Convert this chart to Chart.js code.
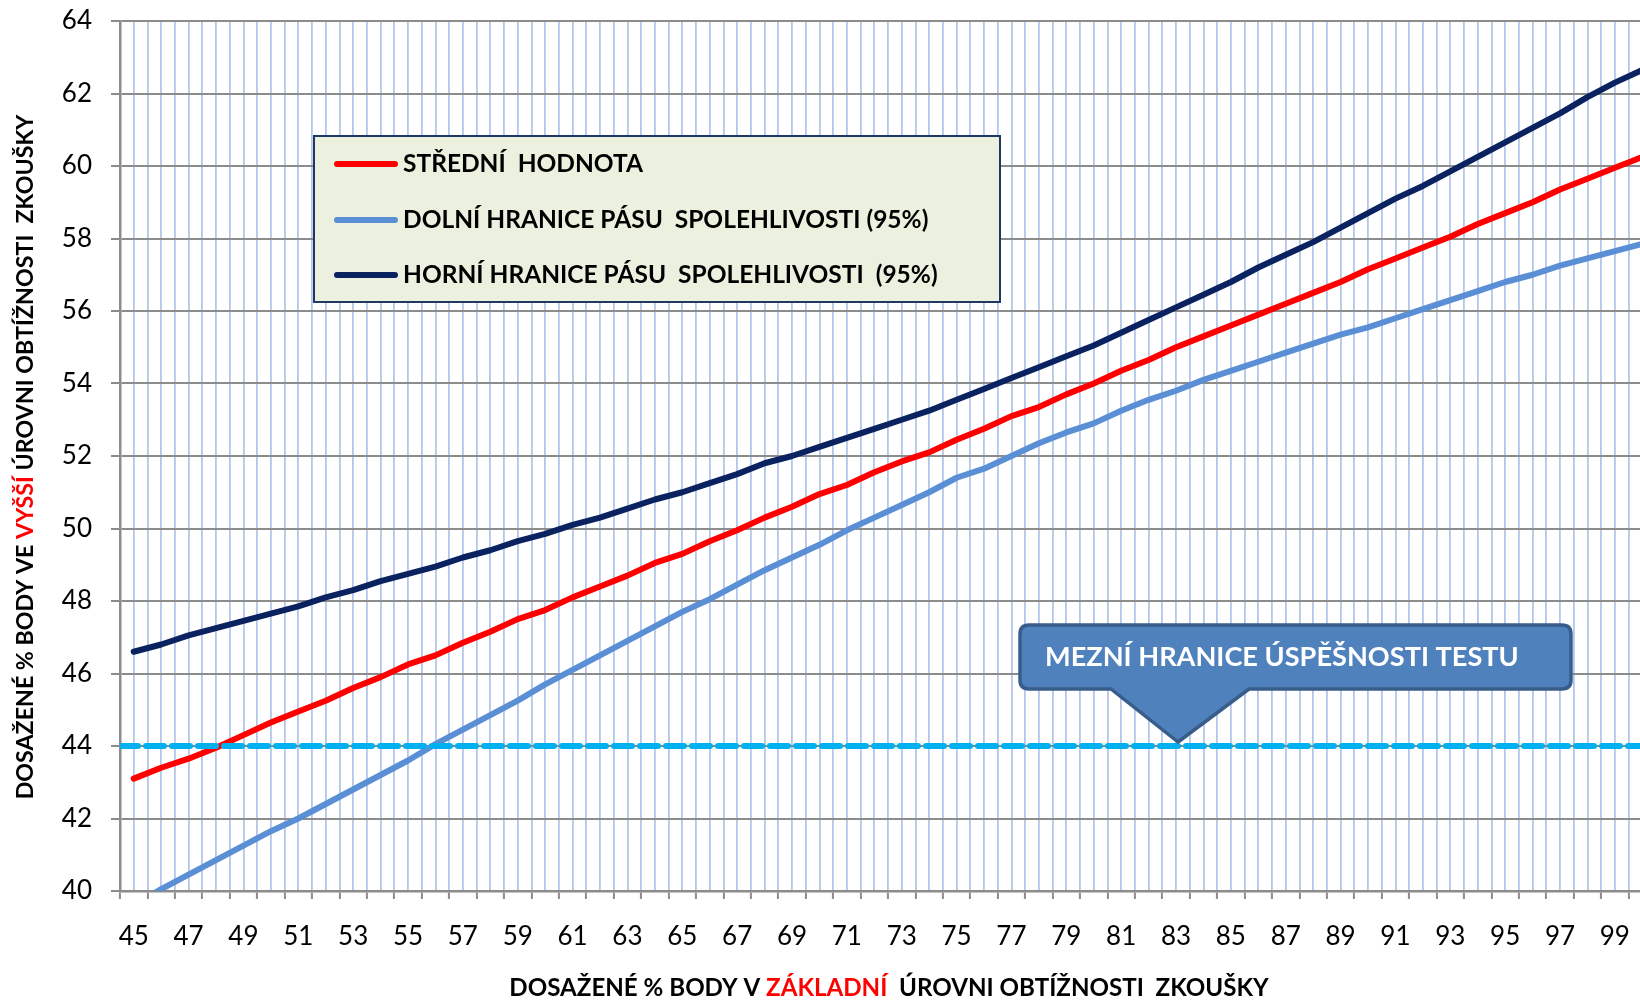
<!DOCTYPE html>
<html><head><meta charset="utf-8">
<script src="https://cdn.jsdelivr.net/npm/chart.js@4.4.1/dist/chart.umd.min.js"></script>
<style>
html,body{margin:0;padding:0;overflow:hidden;background:#fff;width:1640px;height:1003px}
canvas{display:block}
</style></head>
<body>
<canvas id="c" width="1680" height="1003" style="width:1680px;height:1003px"></canvas>
<script>
const categories = [45,46,47,48,49,50,51,52,53,54,55,56,57,58,59,60,61,62,63,64,65,66,67,68,69,70,71,72,73,74,75,76,77,78,79,80,81,82,83,84,85,86,87,88,89,90,91,92,93,94,95,96,97,98,99,100];
const meanValues = [43.1,43.4,43.65,43.95,44.3,44.65,44.95,45.25,45.6,45.9,46.25,46.5,46.85,47.15,47.5,47.75,48.1,48.4,48.7,49.05,49.3,49.65,49.95,50.3,50.6,50.95,51.2,51.55,51.85,52.1,52.45,52.75,53.1,53.35,53.7,54.0,54.35,54.65,55.0,55.3,55.6,55.9,56.2,56.5,56.8,57.15,57.45,57.75,58.05,58.4,58.7,59.0,59.35,59.65,59.95,60.25];
const lowerValues = [39.6,40.05,40.45,40.85,41.25,41.65,42.0,42.4,42.8,43.2,43.6,44.05,44.45,44.85,45.25,45.7,46.1,46.5,46.9,47.3,47.7,48.05,48.45,48.85,49.2,49.55,49.95,50.3,50.65,51.0,51.4,51.65,52.0,52.35,52.65,52.9,53.25,53.55,53.8,54.1,54.35,54.6,54.85,55.1,55.35,55.55,55.8,56.05,56.3,56.55,56.8,57.0,57.25,57.45,57.65,57.85];
const upperValues = [46.6,46.8,47.05,47.25,47.45,47.65,47.85,48.1,48.3,48.55,48.75,48.95,49.2,49.4,49.65,49.85,50.1,50.3,50.55,50.8,51.0,51.25,51.5,51.8,52.0,52.25,52.5,52.75,53.0,53.25,53.55,53.85,54.15,54.45,54.75,55.05,55.4,55.75,56.1,56.45,56.8,57.2,57.55,57.9,58.3,58.7,59.1,59.45,59.85,60.25,60.65,61.05,61.45,61.9,62.3,62.65];
const passThreshold = 44;
const passThresholdAt = 83;
const xTickLabels = [45,47,49,51,53,55,57,59,61,63,65,67,69,71,73,75,77,79,81,83,85,87,89,91,93,95,97,99];
const yTickLabels = [40,42,44,46,48,50,52,54,56,58,60,62,64];
const seriesNames = ['STŘEDNÍ  HODNOTA', 'DOLNÍ HRANICE PÁSU  SPOLEHLIVOSTI (95%)', 'HORNÍ HRANICE PÁSU  SPOLEHLIVOSTI  (95%)'];
const seriesColors = ['#FF0000', '#5A8FD6', '#0B2260'];
const thresholdColor = '#00B0F0';
const calloutText = 'MEZNÍ HRANICE ÚSPĚŠNOSTI TESTU';
const xTitleParts = [['DOSAŽENÉ % BODY V ', '#000'], ['ZÁKLADNÍ', '#FF0000'], ['  ÚROVNI OBTÍŽNOSTI  ZKOUŠKY', '#000']];
const yTitleParts = [['DOSAŽENÉ % BODY VE ', '#000'], ['VYŠŠÍ', '#FF0000'], [' ÚROVNI OBTÍŽNOSTI  ZKOUŠKY', '#000']];

const TICK_FONT = {family: 'Lato', size: 26};
const BOLD_FAMILY = 'Lato';

function pts(vals){ return categories.map((c,i)=>({x:c, y:vals[i]})); }

function drawParts(ctx, parts, targetWidth, cx, cy, rotate) {
  ctx.save();
  const full = parts.map(p=>p[0]).join('');
  ctx.font = `bold 20px ${BOLD_FAMILY}`;
  const w = ctx.measureText(full).width;
  const fs = 20 * targetWidth / w;
  ctx.font = `bold ${fs}px ${BOLD_FAMILY}`;
  const wReal = ctx.measureText(full).width;
  ctx.translate(cx, cy);
  if (rotate) ctx.rotate(-Math.PI/2);
  ctx.textBaseline = 'middle';
  ctx.textAlign = 'left';
  let x = -wReal/2;
  for (const [t,c] of parts) { ctx.fillStyle = c; ctx.fillText(t, x, 0); x += ctx.measureText(t).width; }
  ctx.restore();
}

const decorPlugin = {
  id: 'decor',
  afterDraw(chart) {
    const ctx = chart.ctx;
    const xs = chart.scales.x, ys = chart.scales.y;
    drawParts(ctx, xTitleParts, 760, 889, 988, false);
    drawParts(ctx, yTitleParts, 685, 26, 457, true);

    // legend box
    ctx.save();
    ctx.fillStyle = '#EBF1DE';
    ctx.strokeStyle = '#1F3864';
    ctx.lineWidth = 2;
    ctx.fillRect(314, 136, 686, 166);
    ctx.strokeRect(314, 136, 686, 166);
    ctx.font = `bold 20px ${BOLD_FAMILY}`;
    const wl = ctx.measureText(seriesNames[2]).width;
    const lfs = 20 * 535 / wl;
    const rows = [164, 220, 275];
    seriesNames.forEach((name, i) => {
      ctx.strokeStyle = seriesColors[i];
      ctx.lineWidth = 6;
      ctx.lineCap = 'round';
      ctx.beginPath(); ctx.moveTo(337, rows[i]); ctx.lineTo(395, rows[i]); ctx.stroke();
      ctx.fillStyle = '#000';
      ctx.font = `bold ${lfs}px ${BOLD_FAMILY}`;
      ctx.textBaseline = 'middle';
      ctx.fillText(name, 403, rows[i]);
    });
    ctx.restore();

    // callout
    const lineY = ys.getPixelForValue(passThreshold);
    const tx = xs.getPixelForValue(passThresholdAt) + 2;
    const ty = lineY - 4;
    const L = tx - 158, R = tx + 393, T = lineY - 121, B = lineY - 57, r = 9;
    const bl = tx - 67, br = tx + 71;
    ctx.save();
    ctx.beginPath();
    ctx.moveTo(L + r, T);
    ctx.lineTo(R - r, T); ctx.quadraticCurveTo(R, T, R, T + r);
    ctx.lineTo(R, B - r); ctx.quadraticCurveTo(R, B, R - r, B);
    ctx.lineTo(br, B); ctx.lineTo(tx, ty); ctx.lineTo(bl, B);
    ctx.lineTo(L + r, B); ctx.quadraticCurveTo(L, B, L, B - r);
    ctx.lineTo(L, T + r); ctx.quadraticCurveTo(L, T, L + r, T);
    ctx.closePath();
    ctx.fillStyle = '#4F81BD';
    ctx.fill();
    ctx.lineWidth = 3.5;
    ctx.strokeStyle = '#385D8A';
    ctx.lineJoin = 'round';
    ctx.stroke();
    ctx.restore();
    ctx.save();
    ctx.font = `bold 20px ${BOLD_FAMILY}`;
    const wc = ctx.measureText(calloutText).width;
    ctx.font = `bold ${20 * 474 / wc}px ${BOLD_FAMILY}`;
    ctx.fillStyle = '#FFFFFF';
    ctx.textBaseline = 'middle';
    ctx.fillText(calloutText, L + 25, (T + B) / 2);
    ctx.restore();
  }
};

const chart = new Chart(document.getElementById('c'), {
  type: 'line',
  data: {
    datasets: [
      {label: 'threshold', data: [{x: 44.5, y: passThreshold}, {x: 100.5, y: passThreshold}], borderColor: thresholdColor, borderWidth: 6, borderDash: [18, 8], pointRadius: 0, order: 0},
      {label: seriesNames[0], data: pts(meanValues), borderColor: seriesColors[0], borderWidth: 6, pointRadius: 0, order: 1},
      {label: seriesNames[1], data: pts(lowerValues), borderColor: seriesColors[1], borderWidth: 6, pointRadius: 0, order: 2},
      {label: seriesNames[2], data: pts(upperValues), borderColor: seriesColors[2], borderWidth: 6, pointRadius: 0, order: 3}
    ]
  },
  options: {
    responsive: false,
    animation: false,
    devicePixelRatio: 1,
    elements: {line: {tension: 0, borderJoinStyle: 'round', borderCapStyle: 'round'}},
    layout: {padding: {left: 0, top: 21, right: 1680 - 1656, bottom: 0}},
    plugins: {legend: {display: false}, tooltip: {enabled: false}},
    scales: {
      x: {
        type: 'linear', min: 44.5, max: 100.5,
        afterFit(s) { s.height = 112; },
        ticks: {
          stepSize: 0.5, autoSkip: false, maxRotation: 0, minRotation: 0,
          font: TICK_FONT, color: '#000', padding: 22,
          callback: (v) => xTickLabels.includes(v) ? String(v) : ''
        },
        grid: {
          z: -2,
          color: '#B3C7EA', lineWidth: 1.8, tickLength: 8,
          tickColor: (c) => (c.tick && !Number.isInteger(c.tick.value)) ? '#8C8C8C' : 'rgba(0,0,0,0)',
          tickWidth: 2
        },
        border: {color: '#8C8C8C', width: 2.5}
      },
      y: {
        min: 40, max: 64,
        afterFit(s) { s.width = 120; s.paddingTop = 10; s.paddingBottom = 10; },
        ticks: {
          stepSize: 2, font: TICK_FONT, color: '#000', padding: 19,
          callback: (v) => yTickLabels.includes(v) ? String(v) : ''
        },
        grid: {color: '#8C8C8C', lineWidth: 2, tickLength: 9, tickColor: '#8C8C8C', tickWidth: 2},
        border: {color: '#8C8C8C', width: 2.5}
      }
    }
  },
  plugins: [decorPlugin]
});
</script>
</body></html>
